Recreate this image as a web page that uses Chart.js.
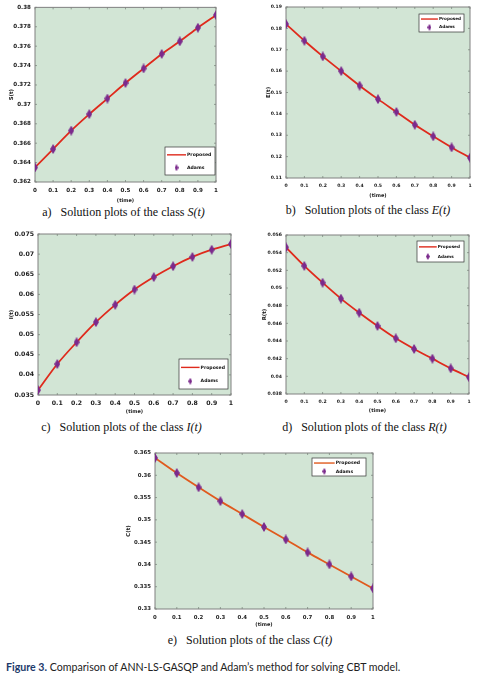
<!DOCTYPE html>
<html>
<head>
<meta charset="utf-8">
<script src="https://cdn.jsdelivr.net/npm/chart.js@4.4.1/dist/chart.umd.min.js"></script>
<style>
  body { margin: 0; background: #fff; }
  #page { position: relative; width: 487px; height: 680px; overflow: hidden; }
  .box { position: absolute; }
  .cap { position: absolute; font-family: "Liberation Serif", serif; font-size: 12px; color: #111; text-align: center; white-space: nowrap; line-height: 14px; }
  #fig { position: absolute; left: 6px; top: 659px; font-family: Lato, sans-serif; font-size: 12px; color: #222; white-space: nowrap; transform: scaleX(0.885); transform-origin: 0 0; }
  #fig b { color: #1d3a6b; }
</style>
</head>
<body>
<div id="page">
  <div class="box" id="pa" style="left:0px;top:0px;width:240px;height:205px"><canvas id="ca"></canvas></div>
  <div class="box" id="pb" style="left:243px;top:0px;width:244px;height:200px"><canvas id="cb"></canvas></div>
  <div class="box" id="pc" style="left:0px;top:220px;width:240px;height:198px"><canvas id="cc"></canvas></div>
  <div class="box" id="pd" style="left:243px;top:220px;width:244px;height:196px"><canvas id="cd"></canvas></div>
  <div class="box" id="pe" style="left:115px;top:440px;width:270px;height:190px"><canvas id="ce"></canvas></div>

  <div class="cap" style="left:0px;top:205px;width:247px">a)&nbsp;&nbsp; Solution plots of the class <i>S(t)</i></div>
  <div class="cap" style="left:243px;top:203px;width:250px">b)&nbsp;&nbsp; Solution plots of the class <i>E(t)</i></div>
  <div class="cap" style="left:0px;top:420px;width:243px">c)&nbsp;&nbsp; Solution plots of the class <i>I(t)</i></div>
  <div class="cap" style="left:243px;top:420px;width:243px">d)&nbsp;&nbsp; Solution plots of the class <i>R(t)</i></div>
  <div class="cap" style="left:115px;top:633px;width:270px">e)&nbsp;&nbsp; Solution plots of the class <i>C(t)</i></div>

  <div id="fig"><b>Figure 3.</b> Comparison of ANN-LS-GASQP and Adam’s method for solving CBT model.</div>
</div>
<script>
// 시간 축
const timeLabels = [0, 0.1, 0.2, 0.3, 0.4, 0.5, 0.6, 0.7, 0.8, 0.9, 1];
const seriesNames = ['Proposed', 'Adams'];

// 각 클래스 값
const sValues = [0.3635, 0.3654, 0.3673, 0.3690, 0.3706, 0.3722, 0.3737, 0.3752, 0.3765, 0.3779, 0.3792];
const eValues = [0.1820, 0.1742, 0.1669, 0.1600, 0.1532, 0.1469, 0.1409, 0.1349, 0.1295, 0.1243, 0.1195];
const iValues = [0.0362, 0.0427, 0.0481, 0.0531, 0.0574, 0.0612, 0.0643, 0.0670, 0.0693, 0.0711, 0.0725];
const rValues = [0.0546, 0.0525, 0.0506, 0.0488, 0.0472, 0.0457, 0.0443, 0.0431, 0.0420, 0.0409, 0.0399];
const cValues = [0.3639, 0.3605, 0.3573, 0.3542, 0.3513, 0.3484, 0.3456, 0.3427, 0.3400, 0.3373, 0.3346];

// 축 범위
const sAxis = { min: 0.362, max: 0.38, step: 0.002 };
const eAxis = { min: 0.11, max: 0.19, step: 0.01 };
const iAxis = { min: 0.035, max: 0.075, step: 0.005 };
const rAxis = { min: 0.038, max: 0.056, step: 0.002 };
const cAxis = { min: 0.33, max: 0.365, step: 0.005 };

const PLOT_BG = 'rgb(210,229,213)';
const MARKER = '#7b2a8c';
const FONT = '"DejaVu Sans", Verdana, sans-serif';

// 세로로 긴 다이아몬드 마커
function diamond(w, h) {
    const c = document.createElement('canvas');
    c.width = w; c.height = h;
    const g = c.getContext('2d');
    g.fillStyle = MARKER;
    g.beginPath();
    g.moveTo(w / 2, 0); g.lineTo(w, h / 2); g.lineTo(w / 2, h); g.lineTo(0, h / 2);
    g.closePath(); g.fill();
    return c;
}
const marker = diamond(6, 10);
const legendMarker = diamond(4, 7);

const fmt = v => String(parseFloat(v.toFixed(4)));

// 배경, 테두리, 안쪽 눈금
const framePlugin = {
    id: 'frame',
    beforeDraw(chart) {
        const a = chart.chartArea, ctx = chart.ctx;
        ctx.save();
        ctx.fillStyle = PLOT_BG;
        ctx.fillRect(a.left, a.top, a.right - a.left, a.bottom - a.top);
        ctx.restore();
    },
    beforeDatasetsDraw(chart) {
        const a = chart.chartArea, ctx = chart.ctx;
        const xs = chart.scales.x, ys = chart.scales.y;
        ctx.save();
        ctx.strokeStyle = '#7d8a80';
        ctx.lineWidth = 0.8;
        ctx.beginPath();
        xs.ticks.forEach(t => {
            const px = xs.getPixelForValue(t.value);
            ctx.moveTo(px, a.bottom); ctx.lineTo(px, a.bottom - 2);
            ctx.moveTo(px, a.top); ctx.lineTo(px, a.top + 2);
        });
        ys.ticks.forEach(t => {
            const py = ys.getPixelForValue(t.value);
            ctx.moveTo(a.left, py); ctx.lineTo(a.left + 2, py);
            ctx.moveTo(a.right, py); ctx.lineTo(a.right - 2, py);
        });
        ctx.stroke();
        ctx.strokeStyle = '#808080';
        ctx.lineWidth = 1;
        ctx.strokeRect(a.left, a.top, a.right - a.left, a.bottom - a.top);
        ctx.restore();
    }
};

// 그래프 안쪽 범례
const boxLegend = {
    id: 'boxLegend',
    afterDraw(chart, args, opts) {
        const ctx = chart.ctx, b = opts.box;
        const line = chart.data.datasets[0];
        ctx.save();
        ctx.fillStyle = '#fff';
        ctx.fillRect(b.x, b.y, b.w, b.h);
        ctx.strokeStyle = '#333';
        ctx.lineWidth = 0.7;
        ctx.strokeRect(b.x, b.y, b.w, b.h);
        const r1 = b.y + b.h * 0.28, r2 = b.y + b.h * 0.74;
        const x1 = b.x + 2, x2 = b.x + b.w * 0.42;
        ctx.strokeStyle = line.borderColor;
        ctx.lineWidth = 1.4;
        ctx.beginPath(); ctx.moveTo(x1, r1); ctx.lineTo(x2, r1); ctx.stroke();
        ctx.drawImage(legendMarker, (x1 + x2) / 2 - 2, r2 - 3.5);
        ctx.fillStyle = '#111';
        ctx.font = 'bold ' + opts.size + 'px ' + FONT;
        ctx.textBaseline = 'middle';
        ctx.fillText(seriesNames[0], x2 + 1, r1);
        ctx.fillText(seriesNames[1], x2 + 1, r2);
        ctx.restore();
    }
};

function makePanel(canvasId, p) {
    const el = document.getElementById(canvasId).parentNode;
    const left = parseFloat(el.style.left), top = parseFloat(el.style.top);
    const width = parseFloat(el.style.width), height = parseFloat(el.style.height);
    const pts = timeLabels.map((t, i) => ({ x: t, y: p.values[i] }));
    const tickFont = { family: FONT, size: p.fontSize, weight: 'bold' };
    return new Chart(document.getElementById(canvasId), {
        type: 'line',
        data: {
            datasets: [
                {
                    label: seriesNames[0], data: pts, borderColor: p.lineColor, borderWidth: 1.8,
                    pointRadius: 0, cubicInterpolationMode: 'monotone', order: 2
                },
                {
                    label: seriesNames[1], data: pts, showLine: false,
                    pointStyle: marker, pointRadius: 4, order: 1
                }
            ]
        },
        options: {
            responsive: true,
            maintainAspectRatio: false,
            animation: false,
            layout: { padding: { top: p.plot.t - top, right: left + width - p.plot.r, left: 0, bottom: 0 } },
            plugins: {
                legend: { display: false },
                tooltip: { enabled: false },
                boxLegend: { size: p.legendSize,
                    box: { x: p.legend.x - left, y: p.legend.y - top, w: p.legend.w, h: p.legend.h } }
            },
            scales: {
                x: {
                    type: 'linear', min: 0, max: 1,
                    grid: { drawOnChartArea: false, drawTicks: false },
                    border: { display: false },
                    ticks: { stepSize: 0.1, padding: 5, color: '#222', maxRotation: 0,
                        font: tickFont, callback: v => fmt(v) },
                    title: { display: true, text: '(time)', color: '#222',
                        font: { family: FONT, size: 5, weight: 'bold' },
                        padding: { top: 0, bottom: top + height - p.xTitleY - 3 } },
                    afterFit: s => { s.height = top + height - p.plot.b; }
                },
                y: {
                    min: p.axis.min, max: p.axis.max,
                    grid: { drawOnChartArea: false, drawTicks: false },
                    border: { display: false },
                    ticks: { stepSize: p.axis.step, padding: 4, color: '#222',
                        font: tickFont, callback: v => fmt(v) },
                    title: { display: true, text: p.yTitle, color: '#111',
                        font: { family: FONT, size: 5.4, weight: 'bold' },
                        padding: { top: p.yTitleX - left - 3.2, bottom: 0 } },
                    afterFit: s => { s.width = p.plot.l - left; }
                }
            }
        },
        plugins: [framePlugin, boxLegend]
    });
}

makePanel('ca', { values: sValues, axis: sAxis, yTitle: 'S(t)', lineColor: '#df2a1c',
    fontSize: 5.6, legendSize: 4.6,
    plot: { l: 35, t: 7, r: 216, b: 182 }, yTitleX: 12, xTitleY: 201,
    legend: { x: 165, y: 147, w: 50, h: 28 } });
makePanel('cb', { values: eValues, axis: eAxis, yTitle: 'E(t)', lineColor: '#df2a1c',
    fontSize: 4.6, legendSize: 4.2,
    plot: { l: 286, t: 7, r: 470, b: 178 }, yTitleX: 269, xTitleY: 196,
    legend: { x: 419, y: 14, w: 45, h: 18 } });
makePanel('cc', { values: iValues, axis: iAxis, yTitle: 'I(t)', lineColor: '#df2a1c',
    fontSize: 6.2, legendSize: 4.6,
    plot: { l: 38, t: 234, r: 231, b: 395 }, yTitleX: 12, xTitleY: 412,
    legend: { x: 179, y: 359, w: 49, h: 30 } });
makePanel('cd', { values: rValues, axis: rAxis, yTitle: 'R(t)', lineColor: '#df2a1c',
    fontSize: 4.6, legendSize: 4.2,
    plot: { l: 286, t: 235, r: 469, b: 394 }, yTitleX: 265, xTitleY: 411,
    legend: { x: 417, y: 241, w: 47, h: 21 } });
makePanel('ce', { values: cValues, axis: cAxis, yTitle: 'C(t)', lineColor: '#e05a1e',
    fontSize: 5.4, legendSize: 4.6,
    plot: { l: 155, t: 453, r: 373, b: 609 }, yTitleX: 129, xTitleY: 625,
    legend: { x: 312, y: 458, w: 54, h: 18 } });
</script>
</body>
</html>
